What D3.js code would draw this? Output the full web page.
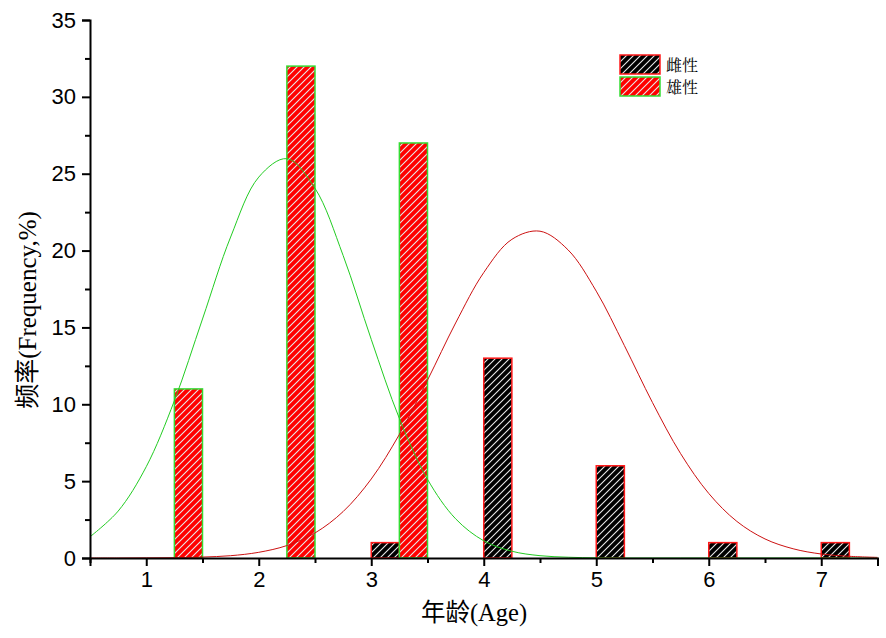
<!DOCTYPE html>
<html><head><meta charset="utf-8">
<script src="https://d3js.org/d3.v7.min.js"></script>
<style>body{margin:0;background:#fff}</style>
</head><body>
<svg id="chart" width="886" height="638"></svg>
<script>
const ages = [1, 2, 3, 4, 5, 6, 7];
const femaleValues = [0, 0, 1, 13, 6, 1, 1];   // 雌性
const maleValues = [11, 32, 27, 0, 0, 0, 0];   // 雄性
const seriesNames = ["雌性", "雄性"];
const yTicks = [0, 5, 10, 15, 20, 25, 30, 35];
const xTicks = [1, 2, 3, 4, 5, 6, 7];
const curveX = [0.5,0.75,1,1.25,1.5,1.75,2,2.25,2.5,2.75,3,3.25,3.5,3.75,4,4.25,4.5,4.75,5,5.25,5.5,5.75,6,6.25,6.5,6.75,7,7.25,7.5];
const maleCurve = [1.38,3.05,5.94,10.23,15.55,20.88,24.78,25.98,24.05,19.68,14.22,9.08,5.12,2.55,1.12,0.44,0.15,0.05,0.01,0,0,0,0,0,0,0,0,0,0];
const femaleCurve = [0,0,0.01,0.02,0.06,0.15,0.37,0.81,1.63,3.02,5.14,8.04,11.57,15.29,18.57,20.73,21.26,20.04,17.36,13.82,10.11,6.79,4.2,2.38,1.24,0.6,0.26,0.11,0.04];

const svg = d3.select("#chart");
const m = {left: 90, right: 8.5, top: 20, bottom: 80};
const W = 886, H = 638;
const x = d3.scaleLinear().domain([0.5, 7.5]).range([m.left, W - m.right]);
const y = d3.scaleLinear().domain([0, 35]).range([H - m.bottom, m.top]);

const defs = svg.append("defs");
function hatch(id, bg) {
  const p = defs.append("pattern").attr("id", id).attr("patternUnits", "userSpaceOnUse")
    .attr("width", 7).attr("height", 7);
  p.append("rect").attr("width", 7).attr("height", 7).attr("fill", bg);
  p.append("path").attr("d", "M-1,1 l2,-2 M0,7 l7,-7 M6,8 l2,-2")
    .attr("stroke", "#e8e8e8").attr("stroke-width", 1.1);
}
hatch("hatchF", "#000");
hatch("hatchM", "#ff0000");

const bw = 0.25;
// female bars
svg.append("g").selectAll("rect").data(ages.map((a, i) => ({a, v: femaleValues[i]})).filter(d => d.v > 0))
  .join("rect")
  .attr("x", d => x(d.a)).attr("width", d => x(d.a + bw) - x(d.a))
  .attr("y", d => y(d.v)).attr("height", d => y(0) - y(d.v))
  .attr("fill", "url(#hatchF)").attr("stroke", "#ff1a1a").attr("stroke-width", 1.5);
// male bars
svg.append("g").selectAll("rect").data(ages.map((a, i) => ({a, v: maleValues[i]})).filter(d => d.v > 0))
  .join("rect")
  .attr("x", d => x(d.a + bw)).attr("width", d => x(d.a + 2 * bw) - x(d.a + bw))
  .attr("y", d => y(d.v)).attr("height", d => y(0) - y(d.v))
  .attr("fill", "url(#hatchM)").attr("stroke", "#33dd33").attr("stroke-width", 1.5);

const line = d3.line().x(d => x(d[0])).y(d => y(d[1])).curve(d3.curveCatmullRom);
svg.append("path").datum(curveX.map((v, i) => [v, maleCurve[i]]))
  .attr("d", line).attr("fill", "none").attr("stroke", "#22cc22").attr("stroke-width", 1);
svg.append("path").datum(curveX.map((v, i) => [v, femaleCurve[i]]))
  .attr("d", line).attr("fill", "none").attr("stroke", "#cc1111").attr("stroke-width", 1);

// axes
const xAxis = svg.append("g").attr("transform", `translate(0,${y(0)})`)
  .call(d3.axisBottom(x).tickValues(xTicks).tickSize(8).tickPadding(5).tickFormat(d3.format("d")));
const xMinor = svg.append("g").attr("transform", `translate(0,${y(0)})`)
  .call(d3.axisBottom(x).tickValues(d3.range(0.5, 7.51, 1)).tickSize(5).tickFormat(""));
const yAxis = svg.append("g").attr("transform", `translate(${x(0.5)},0)`)
  .call(d3.axisLeft(y).tickValues(yTicks).tickSize(8).tickPadding(6));
const yMinor = svg.append("g").attr("transform", `translate(${x(0.5)},0)`)
  .call(d3.axisLeft(y).tickValues(d3.range(2.5, 35, 5)).tickSize(5).tickFormat(""));
[xAxis, xMinor, yAxis, yMinor].forEach(g => {
  g.select(".domain").attr("stroke", "#000").attr("stroke-width", 2);
  g.selectAll(".tick line").attr("stroke", "#000").attr("stroke-width", 2);
  g.selectAll("text").attr("font-family", "Liberation Sans, Arial, sans-serif").attr("font-size", 22).attr("fill", "#000");
});
xMinor.select(".domain").remove();
yMinor.select(".domain").remove();

// axis titles
svg.append("text").attr("x", 474).attr("y", 621).attr("text-anchor", "middle")
  .attr("font-family", "Liberation Serif, 'Noto Sans CJK SC', serif").attr("font-size", 24.5)
  .text("年龄(Age)");
svg.append("text").attr("transform", `translate(36,310) rotate(-90)`)
  .attr("text-anchor", "middle")
  .attr("font-family", "Liberation Serif, 'Noto Sans CJK SC', serif").attr("font-size", 25)
  .text("频率(Frequency,%)");

// legend
const lg = svg.append("g").attr("transform", "translate(620,55)");
const fills = ["url(#hatchF)", "url(#hatchM)"], strokes = ["#ff1a1a", "#33dd33"];
seriesNames.forEach((n, i) => {
  lg.append("rect").attr("x", 0).attr("y", i * 22).attr("width", 40).attr("height", 19)
    .attr("fill", fills[i]).attr("stroke", strokes[i]).attr("stroke-width", 1.5);
  lg.append("text").attr("x", 46).attr("y", i * 22 + 16)
    .attr("font-family", "'Noto Serif CJK SC', 'Noto Sans CJK SC', serif").attr("font-size", 16).text(n);
});
</script>
</body></html>
